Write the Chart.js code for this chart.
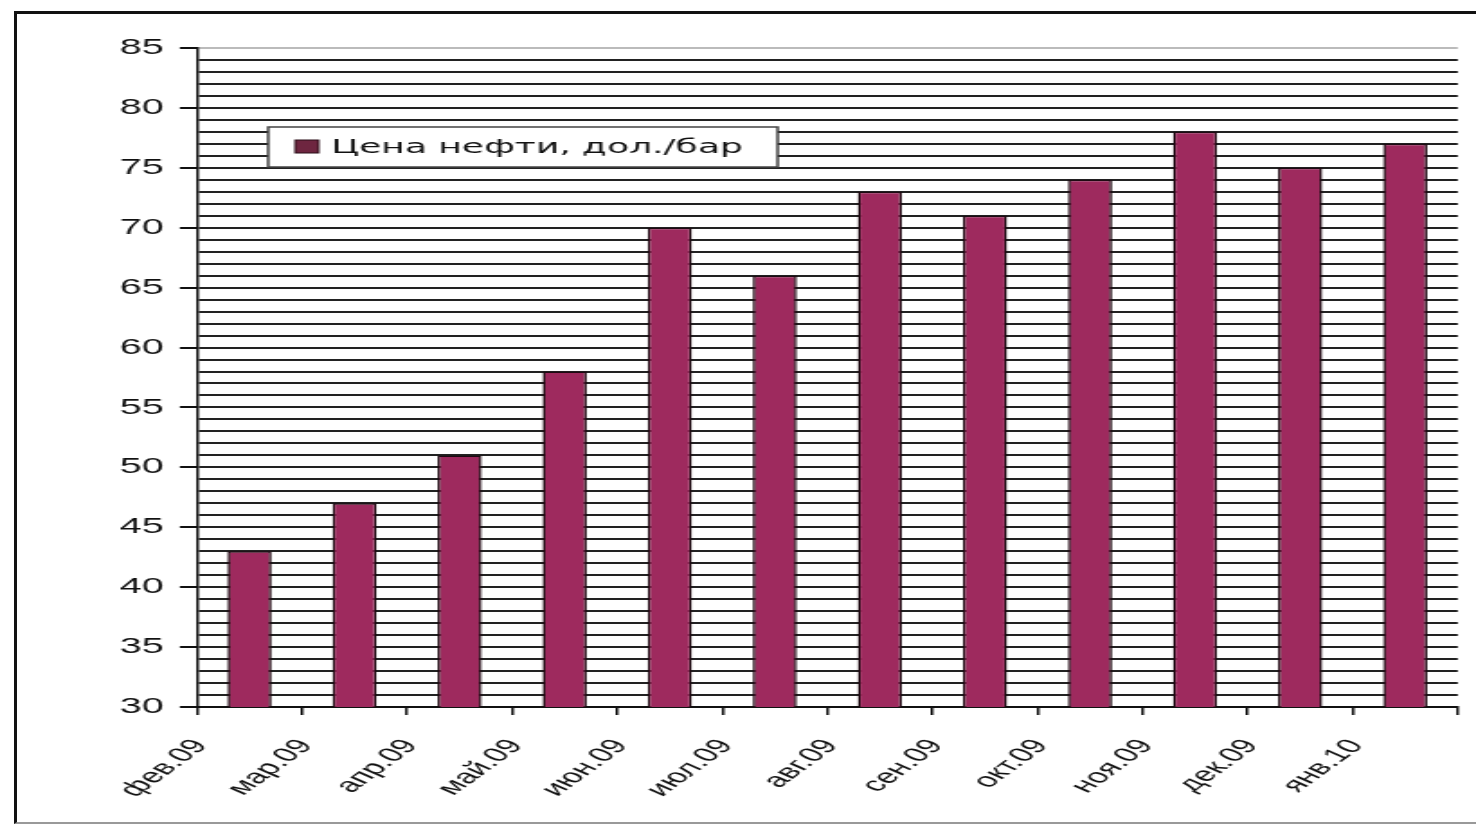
<!DOCTYPE html>
<html><head><meta charset="utf-8">
<script src="https://cdn.jsdelivr.net/npm/chart.js@4/dist/chart.umd.min.js"></script>
<style>
html,body{margin:0;padding:0;background:#fff;overflow:hidden;width:1476px;height:826px}
#frame{position:absolute;left:14px;top:11px;width:1480px;height:808px;border-left:3px solid #111;border-top:3px solid #111;border-bottom:2px solid #999;}
#wrap{position:absolute;left:0;top:0;width:820px;height:826px;transform:scaleX(1.8);transform-origin:0 0;}
</style></head><body>
<div id="frame"></div>
<div id="wrap"><canvas id="c" width="820" height="826"></canvas></div>
<script>
const categories = ['фев.09','мар.09','апр.09','май.09','июн.09','июл.09','авг.09','сен.09','окт.09','ноя.09','дек.09','янв.10'];
const prices = [43,47,51,58,70,66,73,71,74,78,75,77];
const seriesLabel = 'Цена нефти, дол./бар';
const yMin = 30, yMax = 85, yGridStep = 1, yLabelStep = 5;

const barColor = '#9E2A5E';

const boxLegend = {
  id: 'boxLegend',
  afterDraw(chart) {
    const ctx = chart.ctx;
    const ds = chart.data.datasets[0];
    ctx.save();
    const x = 149, y = 127, w = 283, h = 40;
    ctx.fillStyle = '#fff';
    ctx.fillRect(x, y, w, h);
    ctx.strokeStyle = '#444';
    ctx.lineWidth = 1.5;
    ctx.strokeRect(x, y, w, h);
    ctx.fillStyle = '#6e2640';
    ctx.fillRect(164, 140, 13, 13);
    ctx.strokeStyle = '#2a0e18';
    ctx.lineWidth = 1;
    ctx.strokeRect(164, 140, 13, 13);
    ctx.fillStyle = '#111';
    ctx.font = '20px "DejaVu Sans"';
    ctx.textBaseline = 'middle';
    ctx.textAlign = 'left';
    ctx.fillText(ds.label, 184, 148);
    ctx.restore();
  }
};

new Chart(document.getElementById('c'), {
  type: 'bar',
  data: {
    labels: categories,
    datasets: [{
      label: seriesLabel,
      data: prices,
      backgroundColor: barColor,
      borderColor: '#1e0a12',
      borderWidth: 1.5,
      borderSkipped: false,
      barPercentage: 0.42,
      categoryPercentage: 1
    }]
  },
  options: {
    responsive: false,
    animation: false,
    layout: { padding: { left: 0, right: 10, top: 48, bottom: 0 } },
    plugins: { legend: { display: false }, tooltip: { enabled: false } },
    scales: {
      x: {
        offset: true,
        grid: { offset: true, drawOnChartArea: false, color: '#111', tickColor: '#111', tickLength: 8, lineWidth: 1.5 },
        border: { color: '#111', width: 2 },
        ticks: {
          autoSkip: false, minRotation: 52, maxRotation: 52,
          labelOffset: -27, padding: 20,
          color: '#111', font: { family: '"Liberation Sans", Arial', size: 20 }
        },
        afterFit(s) { s.height = 119; }
      },
      y: {
        min: yMin, max: yMax,
        border: { color: '#111', width: 1.5 },
        grid: {
          lineWidth: 2,
          color: (c) => (c.tick && c.tick.value === yMax) ? '#bbb' : '#222',
          tickColor: (c) => (c.tick && c.tick.value % yLabelStep === 0) ? '#111' : 'rgba(0,0,0,0)',
          tickLength: 9.5
        },
        ticks: {
          stepSize: yGridStep, maxTicksLimit: 100, autoSkip: false, padding: 9,
          color: '#111', font: { family: '"Liberation Sans", Arial', size: 22 },
          callback: (v) => (v % yLabelStep === 0) ? String(v) : ''
        },
        afterFit(s) { s.width = 109.4; }
      }
    }
  },
  plugins: [boxLegend]
});
</script>
</body></html>
